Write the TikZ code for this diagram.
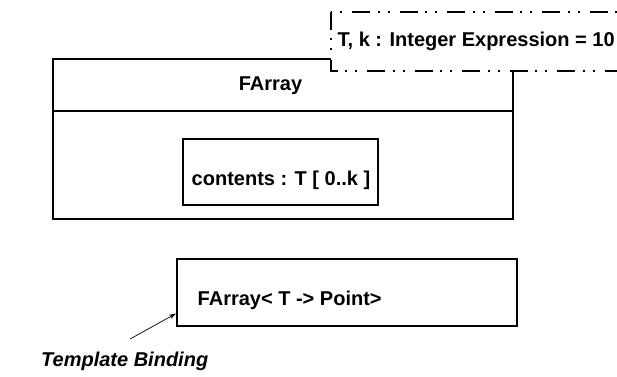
\documentclass[tikz,border=0pt]{standalone}
\usepackage{fontspec}
\setmainfont{Liberation Sans}
\usetikzlibrary{arrows.meta}
\begin{document}
\begin{tikzpicture}[x=1pt,y=-1pt,
  box/.style={draw=black, line width=2pt, rectangle, inner sep=0pt, fill=white},
  lbl/.style={font=\fontsize{20}{24}\selectfont\bfseries, inner sep=0pt, anchor=base west},
  note/.style={font=\fontsize{20}{24}\selectfont\bfseries\itshape, inner sep=0pt, anchor=base west},
  tdash/.style={line width=2pt, dash pattern=on 18pt off 7.5pt on 2pt off 8pt on 2pt off 10pt},
  bindarrow/.style={line width=0.7pt, -{Stealth[length=7pt,width=4.5pt]}}]
\useasboundingbox (0,0) rectangle (617,376);
% class FArray
\node[box, minimum width=460pt, minimum height=160pt] (farray) at (283,139) {};
\draw[line width=2pt] ([yshift=-53pt]farray.north west) -- ([yshift=-53pt]farray.north east);
\node[lbl] (fname) at (238.6,90.7) {FArray};
% attribute box
\node[box, minimum width=195pt, minimum height=66.5pt] (attr) at (280.5,172.2) {};
\node[lbl] (attrtxt) at (191.5,185.7) {contents : T [ 0..k ]};
% template parameter box
\fill[white] (331,12) rectangle (640,71);
\coordinate (tpa) at (331,12);
\coordinate (tpb) at (331,71);
\coordinate (tpc) at (640,71);
\coordinate (tpd) at (640,12);
\draw[tdash] (tpa) -- (tpb) -- (tpc);
\draw[tdash, dash phase=26.5pt] (tpa) -- (tpd);
\node[lbl] (tparams) at (337.5,46.7) {T, k : Integer Expression = 10};
% bound class
\node[box, minimum width=340pt, minimum height=66.5pt] (bound) at (347,292.3) {};
\node[lbl] (boundtxt) at (197.5,305.7) {FArray< T -> Point>};
% template binding note
\node[note] (tb) at (41,366.7) {Template Binding};
\coordinate (tbstart) at (130,339);
\draw[bindarrow] (tbstart) -- ([yshift=13pt]bound.south west);
\end{tikzpicture}
\end{document}
